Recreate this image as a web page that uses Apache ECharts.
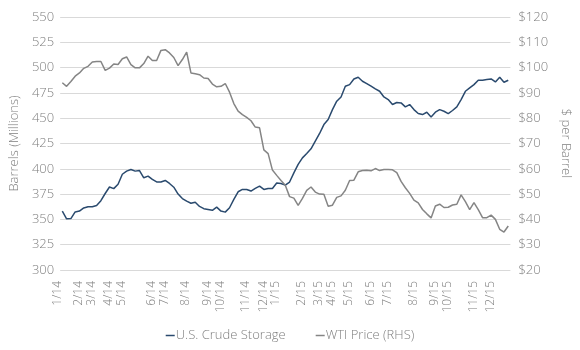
<!DOCTYPE html>
<html>
<head>
<meta charset="utf-8">
<script src="https://cdn.jsdelivr.net/npm/echarts@6/dist/echarts.min.js"></script>
<style>html,body{margin:0;padding:0;background:#fff}#c{width:580px;height:350px}</style>
</head>
<body>
<div id="c"></div>
<script>
// Weekly observations, Jan 2014 - Dec 2015 (105 weeks)
const storage = [358.2,350.6,350.8,357.4,358.2,361.3,362.5,362.5,363.8,368.5,
375.6,382.0,380.4,384.8,394.6,397.7,399.3,397.7,398.3,391.1,
392.8,389.5,387.0,386.9,388.5,385.5,381.8,375.0,370.6,368.0,
366.0,367.0,362.8,360.6,359.8,359.0,362.1,358.2,357.2,361.5,
369.7,377.3,379.6,379.6,378.0,380.6,382.9,379.6,380.6,380.6,
386.0,385.5,383.9,386.9,396.0,404.3,410.8,415.1,419.7,427.3,
434.9,443.7,448.7,458.5,466.8,471.0,481.6,483.2,488.8,490.5,
486.5,484.2,481.6,478.9,476.6,471.0,468.4,463.5,465.5,465.1,
461.2,463.5,458.5,454.6,453.6,455.9,451.3,455.9,458.5,456.9,
454.6,457.6,461.2,468.4,476.6,479.9,483.2,487.5,487.5,488.2,
488.8,485.8,490.5,485.5,487.5];
const wti = [94.0,92.6,94.5,96.6,97.9,99.7,100.5,102.2,102.4,102.4,
98.9,99.8,101.4,101.2,103.5,104.2,101.2,99.9,99.9,101.6,
104.5,102.8,102.8,106.8,107.1,105.8,104.0,100.8,103.2,106.1,
97.9,97.6,97.2,95.9,95.7,93.5,92.4,92.6,93.7,90.3,
85.8,82.8,81.4,80.3,79.0,76.5,76.2,67.5,66.0,59.5,
57.4,55.4,53.5,49.0,48.4,45.5,48.3,51.5,52.8,50.8,
50.0,49.9,45.2,45.6,48.7,49.3,51.5,55.4,55.5,58.8,
59.3,59.4,59.2,60.1,59.3,59.7,59.7,59.6,58.5,55.0,
52.5,50.3,47.6,46.5,43.9,42.2,40.6,45.3,46.0,44.7,
44.8,45.7,46.0,49.7,47.0,43.9,46.6,43.9,40.7,40.7,
41.7,40.0,36.1,35.0,37.4];
const tickLabels = ['1/14','2/14','3/14','4/14','5/14','6/14','7/14','8/14','9/14','10/14','11/14','12/14',
'1/15','2/15','3/15','4/15','5/15','6/15','7/15','8/15','9/15','10/15','11/15','12/15'];
const tickIndex = [0,5,8,12,15,22,25,30,35,38,44,48,51,57,61,64,68,73,77,83,88,91,97,101];
const seriesNames = ['U.S. Crude Storage','WTI Price (RHS)'];

const categories = storage.map(() => '');
tickIndex.forEach((k, j) => { categories[k] = tickLabels[j]; });

const gray = '#808080';
const font = 'Open Sans';
const chart = echarts.init(document.getElementById('c'));
chart.setOption({
  animation: false,
  textStyle: {fontFamily: font},
  grid: {left: 58, right: 60, top: 17, bottom: 80},
  legend: {
    bottom: 3, left: 'center', itemGap: 30, itemWidth: 9, itemHeight: 1.5,
    icon: 'rect',
    textStyle: {color: gray, fontSize: 13, fontFamily: font, fontWeight: 300, padding: [0,0,0,-4]},
    data: seriesNames
  },
  xAxis: {
    type: 'category', data: categories, boundaryGap: true,
    axisLine: {show: false}, axisTick: {show: false},
    axisLabel: {interval: 0, rotate: 90, color: gray, fontSize: 12, fontWeight: 300, margin: 11,
      verticalAlign: 'bottom', lineHeight: 10, fontFamily: font}
  },
  yAxis: [{
    type: 'value', min: 300, max: 550, interval: 25,
    name: 'Barrels (Millions)', nameLocation: 'middle', nameGap: 36, nameRotate: 90,
    nameTextStyle: {color: gray, fontSize: 13, fontWeight: 300, fontFamily: font},
    axisLine: {show: false}, axisTick: {show: false},
    axisLabel: {color: gray, fontSize: 13, fontWeight: 300, margin: 6, fontFamily: font},
    splitLine: {lineStyle: {color: '#d9d9d9', width: 1}}
  }, {
    type: 'value', min: 20, max: 120, interval: 10,
    name: '$ per Barrel', nameLocation: 'middle', nameGap: 40, nameRotate: -90,
    nameTextStyle: {color: gray, fontSize: 13, fontWeight: 300, fontFamily: font},
    axisLine: {show: false}, axisTick: {show: false},
    axisLabel: {color: gray, fontSize: 13, fontWeight: 300, margin: 8, formatter: v => '$' + v, fontFamily: font},
    splitLine: {show: false}
  }],
  series: [{
    name: seriesNames[0], type: 'line', yAxisIndex: 0, data: storage,
    showSymbol: false, lineStyle: {color: '#2a4a6e', width: 1.5}, itemStyle: {color: '#2a4a6e'}
  }, {
    name: seriesNames[1], type: 'line', yAxisIndex: 1, data: wti,
    showSymbol: false, lineStyle: {color: '#858585', width: 1.5}, itemStyle: {color: '#858585'}
  }]
});
</script>
</body>
</html>
